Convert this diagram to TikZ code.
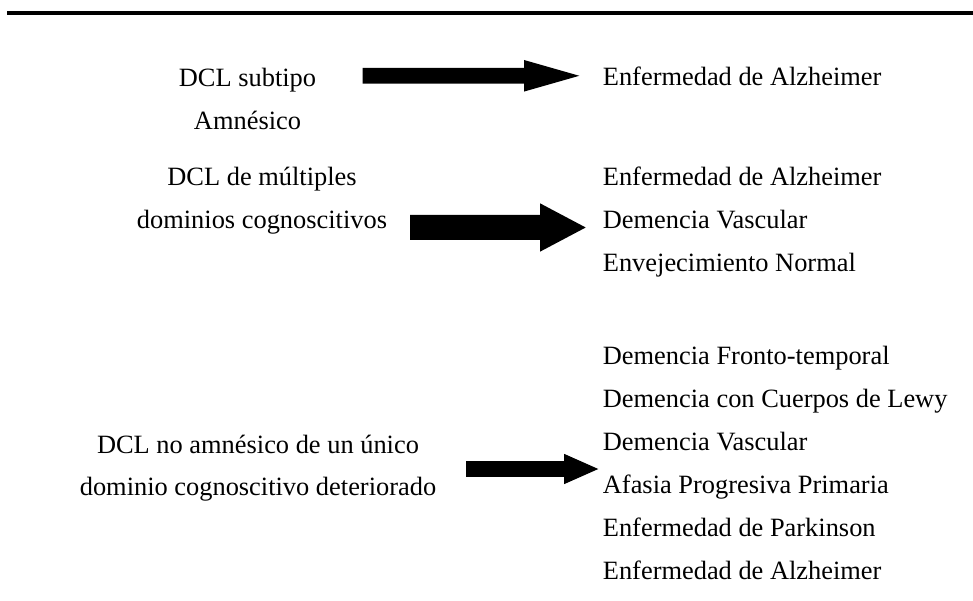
\documentclass[tikz,border=0pt]{standalone}
\usepackage{fontspec}
\setmainfont{Liberation Serif}
\tikzset{
  txt/.style={inner sep=0pt, font=\fontsize{26.4}{30}\selectfont},
  lt/.style={txt, anchor=base},
  rt/.style={txt, anchor=base west},
  blockarrow/.style={fill=black, draw=none},
}
% #1 x start, #2 x head base, #3 x tip, #4 y center, #5 shaft half height, #6 head half height
\newcommand{\blockarr}[6]{%
  \fill[blockarrow] (#1,#4-#5) -- (#2,#4-#5) -- (#2,#4-#6) -- (#3,#4) -- (#2,#4+#6) -- (#2,#4+#5) -- (#1,#4+#5) -- cycle;}
\begin{document}
\begin{tikzpicture}[x=1pt,y=-1pt]
\useasboundingbox (0,0) rectangle (973,601);
% top rule
\coordinate (ruleL) at (7,13.5);
\coordinate (ruleR) at (973,13.5);
\draw[line width=4pt] (ruleL) -- (ruleR);

% group 1
\node[lt] (l1a) at (247.5,86.5) {DCL subtipo};
\node[lt] (l1b) at (247.5,130) {Amnésico};
\node[rt] (r1a) at (602.7,86) {Enfermedad de Alzheimer};
\blockarr{362.7}{524}{579.3}{75.8}{7.8}{15.8}

% group 2
\node[lt] (l2a) at (262,186) {DCL de múltiples};
\node[lt] (l2b) at (262,229) {dominios cognoscitivos};
\node[rt] (r2a) at (602.7,186) {Enfermedad de Alzheimer};
\node[rt] (r2b) at (602.7,229) {Demencia Vascular};
\node[rt] (r2c) at (602.7,272) {Envejecimiento Normal};
\blockarr{410}{540}{585.7}{227.5}{12.5}{24.2}

% group 3
\node[lt] (l3a) at (258,453) {DCL no amnésico de un único};
\node[lt] (l3b) at (258,495) {dominio cognoscitivo deteriorado};
\node[rt] (r3a) at (602.7,364) {Demencia Fronto-temporal};
\node[rt] (r3b) at (602.7,407) {Demencia con Cuerpos de Lewy};
\node[rt] (r3c) at (602.7,450) {Demencia Vascular};
\node[rt] (r3d) at (602.7,493) {Afasia Progresiva Primaria};
\node[rt] (r3e) at (602.7,536) {Enfermedad de Parkinson};
\node[rt] (r3f) at (602.7,579) {Enfermedad de Alzheimer};
\blockarr{466}{564}{598.3}{469}{7.8}{15.2}
\end{tikzpicture}
\end{document}
